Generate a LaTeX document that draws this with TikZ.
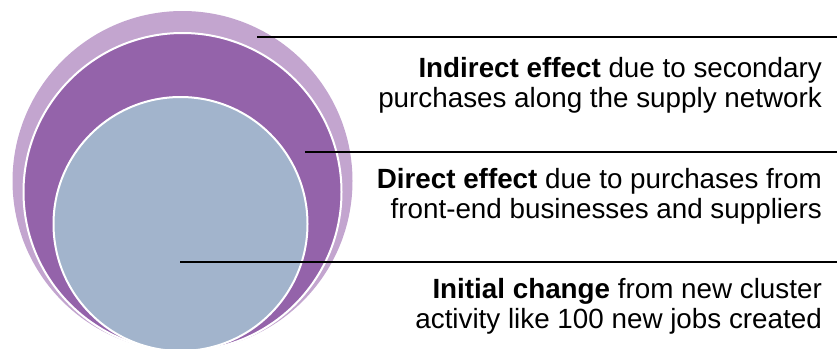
\documentclass[tikz,border=0pt]{standalone}
\usepackage{fontspec}
\setmainfont{Liberation Sans}
\usetikzlibrary{positioning}
\definecolor{ringlight}{HTML}{C3A5CF}
\definecolor{ringdark}{HTML}{9463AA}
\definecolor{corefill}{HTML}{A2B4CC}
\begin{document}
\begin{tikzpicture}[x=1pt,y=-1pt,
  ring/.style={circle,inner sep=0pt,draw=white,line width=2pt},
  leader/.style={line width=1.3pt,black},
  note/.style={align=right,inner sep=0pt,font=\fontsize{27.8}{30.5}\selectfont}]
\useasboundingbox (0,0) rectangle (840,348);
\node[ring,fill=ringlight,draw=none,minimum size=340pt] (outer) at (182.5,181) {};
\node[ring,fill=ringdark,minimum size=318pt] (middle) at (182.5,192) {};
\node[ring,fill=corefill,minimum size=254pt] (core) at (180.5,224) {};
\foreach \n/\x/\y in {ind/257/37,dir/305/152,ini/180/262} {\coordinate (\n-a) at (\x,\y); \coordinate (\n-b) at (837,\y); \draw[leader] (\n-a)--(\n-b);}
\node[note,below left=20pt and 15pt of ind-b] (ind-t) {\textbf{Indirect effect} due to secondary\\purchases along the supply network};
\node[note,below left=16pt and 15pt of dir-b] (dir-t) {\textbf{Direct effect} due to purchases from\\front-end businesses and suppliers};
\node[note,below left=16pt and 15pt of ini-b] (ini-t) {\textbf{Initial change} from new cluster\\activity like 100 new jobs created};
\end{tikzpicture}
\end{document}
